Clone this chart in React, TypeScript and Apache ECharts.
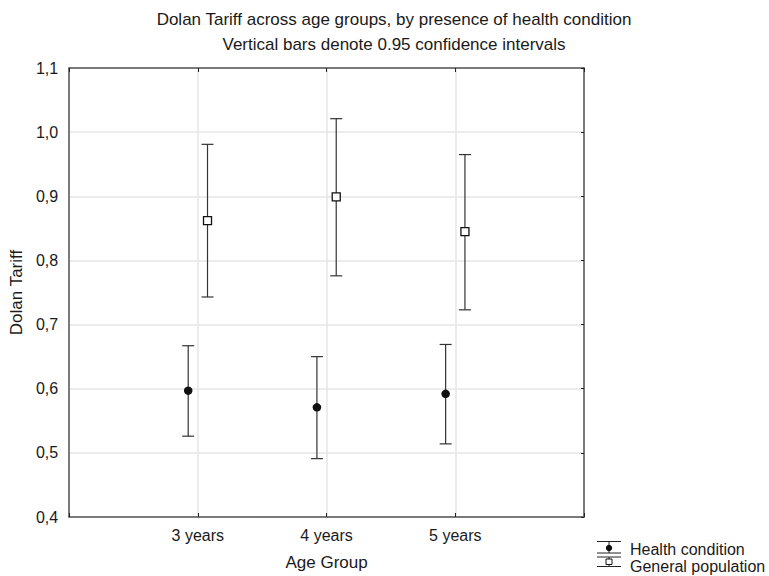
import React, { useEffect, useRef } from 'react';
import * as echarts from 'echarts';

const categories = ['3 years', '4 years', '5 years'];
const healthMean = [0.597, 0.571, 0.592];
const healthLow = [0.526, 0.491, 0.514];
const healthHigh = [0.667, 0.65, 0.669];
const genMean = [0.862, 0.899, 0.845];
const genLow = [0.743, 0.776, 0.723];
const genHigh = [0.981, 1.021, 0.965];
const seriesNames = ['Health condition', 'General population'];
const titleLines = [
  'Dolan Tariff across age groups, by presence of health condition',
  'Vertical bars denote 0.95 confidence intervals',
];

const FONT = '"Liberation Sans", Arial, Helvetica, sans-serif';
const OFFSET = 0.075;
const TEXT = '#1a1a1a';
const AXIS = '#555';
const GRID = '#e6e6e6';

function errorBarRender(params: any, api: any) {
  const x = api.value(0);
  const lo = api.value(1);
  const hi = api.value(2);
  const pLo = api.coord([x, lo]);
  const pHi = api.coord([x, hi]);
  const cap = 6;
  const style = { stroke: '#333', lineWidth: 1.2 };
  return {
    type: 'group',
    children: [
      { type: 'line', shape: { x1: pHi[0], y1: pHi[1], x2: pLo[0], y2: pLo[1] }, style },
      { type: 'line', shape: { x1: pHi[0] - cap, y1: pHi[1], x2: pHi[0] + cap, y2: pHi[1] }, style },
      { type: 'line', shape: { x1: pLo[0] - cap, y1: pLo[1], x2: pLo[0] + cap, y2: pLo[1] }, style },
    ],
  };
}

export default function App() {
  const ref = useRef<HTMLDivElement>(null);
  useEffect(() => {
    if (!ref.current) return;
    const chart = echarts.init(ref.current, undefined, { renderer: 'svg' });
    const hx = categories.map((_, i) => i + 1 - OFFSET);
    const gx = categories.map((_, i) => i + 1 + OFFSET);
    const fmtY = (v: number) => v.toFixed(1).replace('.', ',');
    const fmtX = (v: number) => {
      const idx = Math.round(v) - 1;
      return Math.abs(v - Math.round(v)) < 1e-6 && categories[idx] ? categories[idx] : '';
    };
    const legendStyle = { stroke: '#222', lineWidth: 1 };
    const option: any = {
      animation: false,
      backgroundColor: '#fff',
      textStyle: { fontFamily: FONT },
      grid: { left: 68, right: 185, top: 68, bottom: 55, containLabel: false },
      xAxis: [
        {
          type: 'value',
          min: 0,
          max: 4,
          interval: 1,
          position: 'bottom',
          name: 'Age Group',
          nameLocation: 'middle',
          nameGap: 37,
          nameTextStyle: { color: TEXT, fontSize: 17, fontFamily: FONT },
          axisLine: { show: true, onZero: false, lineStyle: { color: AXIS, width: 1.5 } },
          axisTick: { show: true, inside: true, length: 4, lineStyle: { color: '#222' } },
          axisLabel: { formatter: fmtX, color: TEXT, fontSize: 16, fontFamily: FONT, margin: 10 },
          splitLine: { show: true, lineStyle: { color: GRID, width: 1.5 } },
        },
        {
          type: 'value',
          min: 0,
          max: 4,
          interval: 1,
          position: 'top',
          axisLine: { show: true, onZero: false, lineStyle: { color: AXIS, width: 1.5 } },
          axisTick: { show: true, inside: true, length: 4, lineStyle: { color: '#222' } },
          axisLabel: { show: false },
          splitLine: { show: false },
        },
      ],
      yAxis: [
        {
          type: 'value',
          min: 0.4,
          max: 1.1,
          interval: 0.1,
          position: 'left',
          name: 'Dolan Tariff',
          nameLocation: 'middle',
          nameGap: 43,
          nameTextStyle: { color: TEXT, fontSize: 17, fontFamily: FONT },
          axisLine: { show: true, onZero: false, lineStyle: { color: AXIS, width: 1.5 } },
          axisTick: { show: false },
          axisLabel: { formatter: fmtY, color: TEXT, fontSize: 16, fontFamily: FONT, margin: 11 },
          splitLine: { show: true, lineStyle: { color: GRID, width: 1.5 } },
        },
        {
          type: 'value',
          min: 0.4,
          max: 1.1,
          interval: 0.1,
          position: 'right',
          axisLine: { show: true, onZero: false, lineStyle: { color: AXIS, width: 1.5 } },
          axisTick: { show: true, inside: true, length: 3, lineStyle: { color: '#222' } },
          axisLabel: { show: false },
          splitLine: { show: false },
        },
      ],
      series: [
        {
          name: seriesNames[0] + ' CI',
          type: 'custom',
          renderItem: errorBarRender,
          encode: { x: 0, y: [1, 2] },
          data: hx.map((x, i) => [x, healthLow[i], healthHigh[i]]),
          z: 2,
        },
        {
          name: seriesNames[1] + ' CI',
          type: 'custom',
          renderItem: errorBarRender,
          encode: { x: 0, y: [1, 2] },
          data: gx.map((x, i) => [x, genLow[i], genHigh[i]]),
          z: 2,
        },
        {
          name: seriesNames[0],
          type: 'scatter',
          symbol: 'circle',
          symbolSize: 8.5,
          itemStyle: { color: '#111', opacity: 1 },
          data: hx.map((x, i) => [x, healthMean[i]]),
          z: 3,
        },
        {
          name: seriesNames[1],
          type: 'scatter',
          symbol: 'rect',
          symbolSize: 8,
          itemStyle: { color: '#fff', borderColor: '#111', borderWidth: 1.3, opacity: 1 },
          data: gx.map((x, i) => [x, genMean[i]]),
          z: 3,
        },
      ],
      graphic: [
        {
          type: 'text',
          x: 394,
          y: 19,
          style: { text: titleLines[0], font: `17px ${FONT}`, fill: TEXT, textAlign: 'center', textVerticalAlign: 'middle' },
        },
        {
          type: 'text',
          x: 394,
          y: 44,
          style: { text: titleLines[1], font: `17px ${FONT}`, fill: TEXT, textAlign: 'center', textVerticalAlign: 'middle' },
        },
        // legend: Health condition
        { type: 'line', shape: { x1: 597, y1: 541.5, x2: 621, y2: 541.5 }, style: legendStyle },
        { type: 'line', shape: { x1: 609, y1: 541.5, x2: 609, y2: 553 }, style: legendStyle },
        { type: 'line', shape: { x1: 597, y1: 553, x2: 621, y2: 553 }, style: legendStyle },
        { type: 'circle', shape: { cx: 609, cy: 548, r: 3.2 }, style: { fill: '#111' } },
        {
          type: 'text',
          x: 630,
          y: 549,
          style: { text: seriesNames[0], font: `16px ${FONT}`, fill: TEXT, textVerticalAlign: 'middle' },
        },
        // legend: General population
        { type: 'line', shape: { x1: 597, y1: 557, x2: 621, y2: 557 }, style: legendStyle },
        { type: 'line', shape: { x1: 609, y1: 557, x2: 609, y2: 566.5 }, style: legendStyle },
        { type: 'line', shape: { x1: 597, y1: 566.5, x2: 621, y2: 566.5 }, style: legendStyle },
        { type: 'rect', shape: { x: 606, y: 559, width: 6, height: 5.5 }, style: { fill: '#fff', stroke: '#111', lineWidth: 1 } },
        {
          type: 'text',
          x: 630,
          y: 566,
          style: { text: seriesNames[1], font: `16px ${FONT}`, fill: TEXT, textVerticalAlign: 'middle' },
        },
      ],
    };
    chart.setOption(option);
    return () => chart.dispose();
  }, []);
  return <div ref={ref} style={{ width: 769, height: 576, position: 'absolute', left: 0, top: 0 }} />;
}
